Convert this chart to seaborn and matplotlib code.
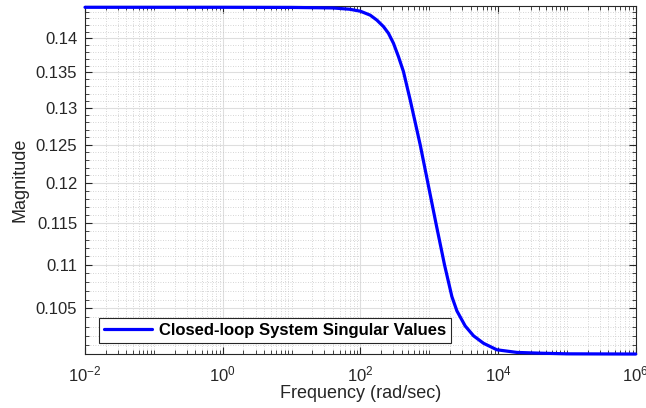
import numpy as np
import pandas as pd
import matplotlib
matplotlib.use("Agg")
import matplotlib.pyplot as plt
from matplotlib.ticker import FixedLocator, FixedFormatter, NullFormatter
import seaborn as sns

# Singular value of the closed-loop system vs. frequency
freq = [0.01, 0.1, 1, 10, 40, 70, 100, 138.8, 173.7, 216.7, 256.1, 302.8,
        357.9, 423.1, 529.6, 740, 957.4, 1252, 1669, 2138, 2527, 3337, 4406,
        6155, 9640, 18830, 41000, 1e5, 1e6]
magnitude = [0.1447, 0.1447, 0.1447, 0.14468, 0.1446, 0.1444, 0.1441, 0.1435,
             0.14274, 0.14176, 0.14075, 0.13926, 0.13729, 0.13512, 0.13111,
             0.125, 0.12, 0.115, 0.11, 0.10633, 0.10473, 0.10306, 0.10199,
             0.10118, 0.10048, 0.10020, 0.10012, 0.10005, 0.10003]

y_major = [0.105, 0.11, 0.115, 0.12, 0.125, 0.13, 0.135, 0.14]
y_labels = ["0.105", "0.11", "0.115", "0.12", "0.125", "0.13", "0.135", "0.14"]
x_major = [1e-2, 1e0, 1e2, 1e4, 1e6]
x_labels = [r"$10^{-2}$", r"$10^{0}$", r"$10^{2}$", r"$10^{4}$", r"$10^{6}$"]
series_name = "Closed-loop System Singular Values"

df = pd.DataFrame({"Frequency": freq, "Magnitude": magnitude, "series": series_name})

sns.set_theme(style="white")
plt.rcParams["font.family"] = ["Liberation Sans", "DejaVu Sans"]
plt.rcParams["mathtext.fontset"] = "custom"
plt.rcParams["mathtext.rm"] = "Liberation Sans"
plt.rcParams["mathtext.it"] = "Liberation Sans"
plt.rcParams["mathtext.default"] = "regular"

ink = "#262626"
fig = plt.figure(figsize=(6.46, 4.08), dpi=100)
ax = fig.add_axes([85 / 646, 1 - 354.3 / 408, (635.7 - 85) / 646, (354.3 - 6) / 408])

sns.lineplot(data=df, x="Frequency", y="Magnitude", hue="series",
             palette=["#0000ff"], linewidth=2.3, ax=ax, clip_on=False, zorder=5)

ax.set_xscale("log")
ax.set_yscale("log")
ax.set_xlim(1e-2, 1e6)
ax.set_ylim(0.1000, 0.1449)

# ticks
ax.xaxis.set_major_locator(FixedLocator(x_major))
ax.xaxis.set_major_formatter(FixedFormatter(x_labels))
x_minor = [k * 10.0 ** e for e in range(-2, 6) for k in range(2, 10)]
x_minor += [10.0 ** e for e in (-1, 1, 3, 5)]
ax.xaxis.set_minor_locator(FixedLocator(sorted(x_minor)))
ax.xaxis.set_minor_formatter(NullFormatter())

ax.yaxis.set_major_locator(FixedLocator(y_major))
ax.yaxis.set_major_formatter(FixedFormatter(y_labels))
y_minor = [round(0.100 + 0.001 * i, 3) for i in range(45)]
ax.yaxis.set_minor_locator(FixedLocator(y_minor))
ax.yaxis.set_minor_formatter(NullFormatter())

ax.tick_params(which="both", direction="in", top=True, right=True,
               bottom=True, left=True, color=ink, labelcolor=ink, labelsize=12)
ax.tick_params(which="major", length=5, width=0.8)
ax.tick_params(which="minor", length=3, width=0.6)
ax.tick_params(axis="y", which="major", pad=5.5)
ax.tick_params(axis="x", which="major", pad=7)

ax.grid(True, which="major", color="#dedede", linewidth=0.8, linestyle="-")
ax.grid(True, which="minor", color="#c8c8c8", linewidth=0.6, linestyle=(0, (1, 2)))
ax.set_axisbelow(True)

for side in ax.spines.values():
    side.set_color(ink)
    side.set_linewidth(0.8)

ax.set_xlabel("Frequency (rad/sec)", fontsize=13, color=ink, labelpad=1)
ax.set_ylabel("Magnitude", fontsize=13, color=ink, labelpad=5)

leg = ax.legend(loc="lower left", bbox_to_anchor=(0.0254, 0.0324), borderaxespad=0,
                fancybox=False, frameon=True, edgecolor=ink, framealpha=1,
                handlelength=2.9, borderpad=0.3, handletextpad=0.42,
                prop={"weight": "bold", "size": 12})
leg.get_frame().set_linewidth(0.8)
for t in leg.get_texts():
    t.set_color("black")

fig.savefig("out.png", dpi=100)
